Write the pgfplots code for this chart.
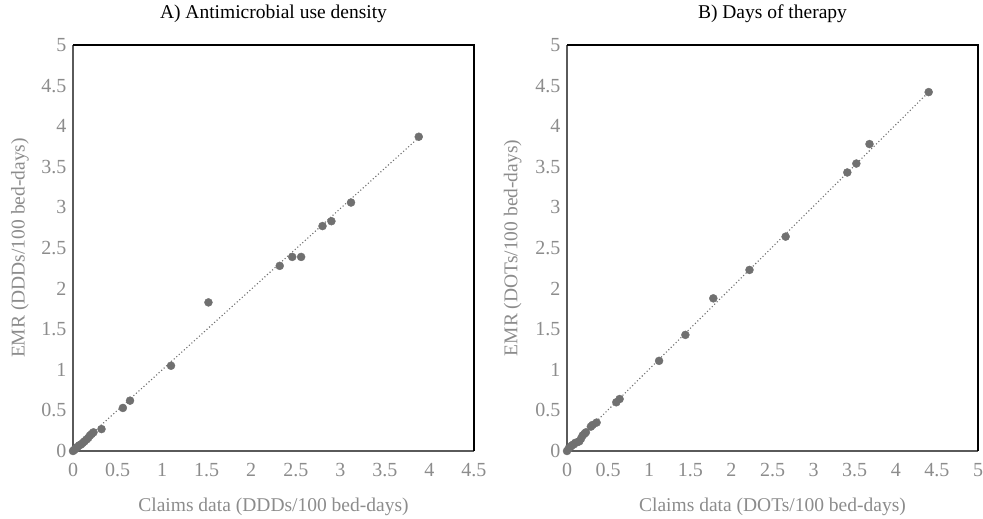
\documentclass[border=0pt]{standalone}
\usepackage{pgfplots}
\pgfplotsset{compat=1.18}
\usepackage{fontspec}
\setmainfont{Liberation Serif}
\definecolor{ptgray}{HTML}{707070}
\definecolor{lblgray}{HTML}{8C8C8C}
\definecolor{axgray}{HTML}{5A5A5A}

\pgfplotsset{
  panel/.style={
    scale only axis,
    height=406pt,
    ymin=0, ymax=5,
    ytick={0,0.5,...,5},
    axis line style={draw=none},
    major tick length=0pt,
    tick label style={font=\fontsize{20}{22}\selectfont, text=lblgray},
    /pgf/number format/assume math mode=true,
    xticklabel style={anchor=center, yshift=-19pt},
    yticklabel style={anchor=east, xshift=-3pt},
    label style={font=\fontsize{19.5}{22}\selectfont, text=lblgray},
    xlabel style={at={(axis description cs:0.5,-0.138)}, anchor=center},
    ylabel style={at={(axis description cs:-0.132,0.5)}, anchor=center},
    clip=false,
  },
  pts/.style={only marks, mark=*, mark size=4pt, mark options={draw=ptgray, fill=ptgray}},
  trend/.style={no marks, ptgray, line width=1.1pt, dash pattern=on 1.1pt off 2.3pt},
}
\tikzset{paneltitle/.style={font=\fontsize{19.5}{22}\selectfont, anchor=center, inner sep=0pt}}

\begin{document}
\begin{tikzpicture}
\path[use as bounding box] (0,0) rectangle (983pt,519pt);

% A) antimicrobial use density
\begin{axis}[panel,
  at={(73pt,68pt)}, anchor=south west,
  width=401pt,
  xmin=0, xmax=4.5,
  xtick={0,0.5,...,4.5},
  xlabel={Claims data (DDDs/100 bed-days)},
  ylabel={EMR (DDDs/100 bed-days)},
]
\addplot[trend] coordinates {(0,0.005) (3.88,3.86)};
\addplot[pts] coordinates {
  (0,0) (0.01,0.01) (0.02,0.02) (0.03,0.03) (0.04,0.04) (0.05,0.05)
  (0.07,0.07) (0.09,0.08) (0.11,0.10) (0.13,0.12) (0.15,0.14)
  (0.17,0.16) (0.19,0.19) (0.21,0.21) (0.23,0.23) (0.32,0.27)
  (0.56,0.53) (0.64,0.62) (1.10,1.05) (1.52,1.83) (2.32,2.28)
  (2.46,2.39) (2.56,2.39) (2.80,2.77) (2.90,2.83) (3.12,3.06)
  (3.88,3.87)
};
\draw[axgray, line width=2.2pt] (rel axis cs:0,1) -- (rel axis cs:0,0) -- (rel axis cs:1,0);
\draw[black, line width=2.2pt] (rel axis cs:0,1) -- (rel axis cs:1,1) -- (rel axis cs:1,0);
\node[paneltitle] at (rel axis cs:0.5,1.076) {A) Antimicrobial use density};
\end{axis}

% B) days of therapy
\begin{axis}[panel,
  at={(567pt,68pt)}, anchor=south west,
  width=411pt,
  xmin=0, xmax=5,
  xtick={0,0.5,...,5},
  xlabel={Claims data (DOTs/100 bed-days)},
  ylabel={EMR (DOTs/100 bed-days)},
]
\addplot[trend] coordinates {(0,0.005) (4.40,4.42)};
\addplot[pts] coordinates {
  (0,0) (0.02,0.03) (0.04,0.05) (0.06,0.07) (0.08,0.08) (0.10,0.10)
  (0.13,0.11) (0.15,0.12) (0.17,0.15) (0.19,0.19) (0.21,0.21)
  (0.23,0.23) (0.29,0.30) (0.31,0.32) (0.36,0.35) (0.60,0.60)
  (0.64,0.64) (1.12,1.11) (1.44,1.43) (1.78,1.88) (2.22,2.23)
  (2.66,2.64) (3.41,3.43) (3.52,3.54) (3.68,3.78) (4.40,4.42)
};
\draw[axgray, line width=2.2pt] (rel axis cs:0,1) -- (rel axis cs:0,0) -- (rel axis cs:1,0);
\draw[black, line width=2.2pt] (rel axis cs:0,1) -- (rel axis cs:1,1) -- (rel axis cs:1,0);
\node[paneltitle] at (rel axis cs:0.5,1.076) {B) Days of therapy};
\end{axis}
\end{tikzpicture}
\end{document}
